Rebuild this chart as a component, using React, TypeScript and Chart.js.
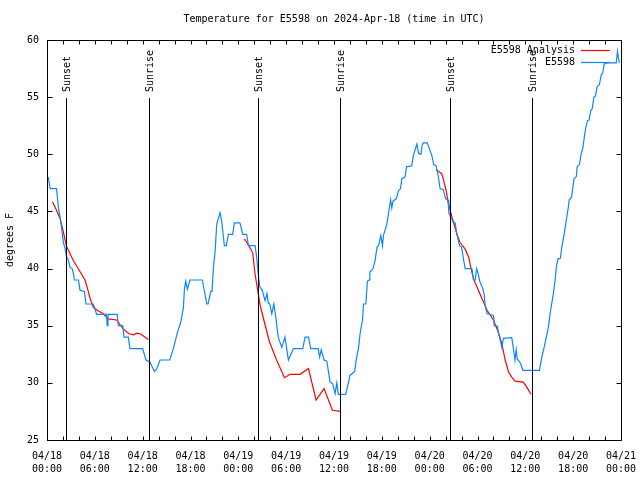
import React, { useEffect, useRef } from "react";
import { Chart, registerables } from "chart.js";

Chart.register(...registerables);

const TITLE = "Temperature for E5598 on 2024-Apr-18 (time in UTC)";
const Y_TITLE = "degrees F";
const FONT = "'DejaVu Sans Mono', monospace";

// hours since 2024-04-18 00:00 UTC
const obsHours = [
  0.16, 0.3, 0.4, 1.2, 1.42, 1.6, 1.84, 2.05, 2.25, 2.47, 2.6, 2.89, 3.15, 3.3, 3.43, 3.95, 4.14, 4.7, 4.89, 5.8,
  6.23, 7.45, 7.55, 7.65, 8.8, 8.95, 9.5, 9.66, 10.2, 10.41, 12.0, 12.42, 12.92, 13.47, 13.75, 14.18, 15.4, 15.85,
  16.1, 16.48, 16.7, 16.9, 17.11, 17.24, 17.4, 17.6, 17.94, 19.49, 20.04, 20.2, 20.54, 20.7, 20.87, 21.08, 21.29,
  21.7, 21.9, 22.25, 22.5, 22.75, 23.3, 23.5, 24.2, 24.55, 25.05, 25.26, 26.1, 26.3, 26.5, 26.7, 27.0, 27.35, 27.6,
  27.75, 27.95, 28.2, 28.45, 28.7, 29.0, 29.45, 29.85, 30.28, 30.9, 32.08, 32.37, 32.8, 33.08, 34.0, 34.2, 34.4,
  34.75, 35.1, 35.5, 35.85, 36.14, 36.35, 36.55, 37.47, 37.8, 38.0, 38.6, 38.8, 39.07, 39.27, 39.57, 39.7, 40.0,
  40.19, 40.4, 40.5, 40.9, 41.15, 41.4, 41.6, 41.87, 42.08, 42.2, 42.6, 42.8, 43.1, 43.25, 43.4, 43.8, 44.1, 44.35,
  44.5, 44.9, 45.1, 45.75, 45.96, 46.4, 46.6, 46.9, 47.05, 47.2, 47.7, 48.06, 48.27, 48.5, 48.8, 49.1, 49.3, 49.7,
  50.0, 50.3, 50.4, 50.7, 50.9, 51.2, 51.4, 51.74, 52.0, 52.2, 52.45, 53.3, 53.5, 53.7, 53.9, 54.1, 54.3, 54.67,
  54.84, 54.95, 55.2, 56.0, 56.1, 56.5, 56.6, 56.8, 57.06, 57.25, 58.3, 58.5, 58.7, 58.85, 59.0, 59.15, 59.4, 59.7,
  61.77, 62.06, 62.36, 62.6, 62.9, 63.1, 63.45, 63.74, 63.9, 64.1, 64.4, 64.58, 64.8, 65.0, 65.2, 65.4, 65.5, 65.8,
  65.96, 66.1, 66.4, 66.5, 66.8, 67.0, 67.2, 67.4, 67.6, 67.8, 68.0, 68.2, 68.4, 68.6, 68.8, 69.0, 69.3, 69.5,
  69.7, 69.9, 70.3, 71.4, 71.56, 71.7, 71.8,
];
const obsTemps = [
  48.0, 47.4, 47.0, 47.0, 45.4, 44.7, 43.5, 42.3, 41.8, 41.0, 40.9, 40.1, 40.0, 39.6, 39.0, 39.0, 38.1, 38.0, 36.9, 36.9,
  36.0, 36.0, 35.0, 36.0, 36.0, 35.0, 35.0, 34.0, 34.0, 33.0, 33.0, 32.0, 31.8, 31.0, 31.2, 32.0, 32.0, 33.0,
  33.7, 34.7, 35.1, 35.75, 36.6, 38.2, 38.9, 38.2, 39.0, 39.0, 36.9, 36.9, 38.0, 38.0, 40.1, 41.4, 43.9,
  44.9, 44.2, 42.0, 42.0, 43.0, 43.0, 44.0, 44.0, 43.0, 43.0, 42.0, 42.0, 41.0, 39.5, 38.4, 38.1, 37.2, 37.8,
  37.0, 36.9, 36.05, 36.9, 35.75, 34.0, 33.1, 34.0, 32.0, 33.0, 33.0, 34.0, 34.0, 33.0, 33.0, 32.25, 32.9,
  32.0, 31.9, 30.1, 29.9, 29.05, 30.0, 29.0, 29.0, 30.0, 30.65, 31.0, 32.1, 33.0, 34.3, 35.5, 36.9, 36.9,
  38.9, 39.0, 39.7, 40.0, 40.7, 41.9, 42.0, 42.9, 42.0, 42.9, 43.8, 44.65, 46.0, 45.3, 45.9, 46.1, 46.8, 47.0,
  47.85, 48.0, 48.9, 49.0, 49.9, 50.9, 50.1, 50.0, 50.8, 51.0, 51.0, 50.3, 49.9, 49.1, 49.0, 48.0, 47.0, 46.9,
  46.1, 46.0, 44.9, 44.5, 44.1, 44.0, 43.05, 42.0, 41.9, 41.0, 40.0, 40.0, 39.0, 39.0, 40.0, 39.5, 38.85, 38.25,
  37.7, 36.8, 36.05, 35.9, 35.0, 34.95, 34.45, 33.9, 33.1, 33.9, 33.95, 33.0, 32.0, 32.9, 32.0, 32.0, 31.7, 31.1,
  31.1, 32.25, 33.1, 33.9, 34.9, 36.05, 37.5, 39.0, 40.2, 40.85, 40.9, 41.9, 42.75, 43.6, 44.5, 45.4, 46.0, 46.25,
  47.1, 47.85, 48.05, 48.9, 49.1, 50.05, 50.5, 51.5, 52.4, 52.96, 53.0, 53.8, 54.0, 55.0, 55.1, 55.9, 56.1, 56.9,
  57.1, 57.9, 58.0, 58.0, 59.0, 58.35, 58.0,
];

// analysis series, null = gap between analysis runs
const anaHours = [
  0.67, 1.0, 1.63, 2.05, 2.47, 3.3, 4.0, 4.77, 5.1, 5.4, 5.81, 6.4, 7.07, 7.7, 8.74, 9.58, 10.3, 10.83, 11.3, 11.67,
  12.1, 12.7, 18.0,
  24.76, 25.05, 25.4, 25.8, 26.1, 26.5, 26.7, 27.2, 27.9, 28.8, 29.78, 30.5, 31.74, 32.8, 33.75, 34.75, 35.8, 36.76,
  42.0,
  48.8, 49.3, 49.5, 49.65, 50.06, 50.35, 50.8, 51.4, 51.8, 52.45, 52.9, 53.16, 53.5, 54.3, 55.2, 56.0, 56.6, 57.06,
  57.47, 57.9, 58.3, 58.7, 59.76, 60.2, 60.7,
];
const anaTemps = [
  45.85, 45.4, 44.4, 43.2, 41.9, 40.7, 39.9, 39.0, 38.2, 37.4, 36.6, 36.3, 36.05, 35.6, 35.5, 34.7, 34.3, 34.2, 34.35, 34.3,
  34.1, 33.8, null,
  42.6, 42.3, 41.9, 41.4, 39.5, 37.8, 36.9, 35.5, 33.6, 32.0, 30.45, 30.75, 30.75, 31.25, 28.5, 29.5, 27.6, 27.5,
  null,
  48.65, 48.4, 48.3, 48.0, 46.85, 45.7, 44.5, 43.05, 42.3, 41.7, 41.0, 40.1, 39.1, 37.8, 36.35, 35.5, 34.45, 33.4,
  32.0, 30.95, 30.5, 30.15, 30.07, 29.6, 29.0,
];

const sunHours = [2.42, 12.84, 26.5, 36.8, 50.6, 60.8];
const sunLabels = ["Sunset", "Sunrise", "Sunset", "Sunrise", "Sunset", "Sunrise"];

const seriesNames = ["E5598 Analysis", "E5598"];
const seriesColors = ["#ff0000", "#0a87ff"];

const X_MIN = 0;
const X_MAX = 72;
const Y_MIN = 25;
const Y_MAX = 60;

function tickLabel(v: number): string[] {
  const day = 18 + Math.floor(v / 24);
  const h = v % 24;
  const hh = (h < 10 ? "0" : "") + h;
  return ["04/" + day, hh + ":00"];
}

const decorPlugin = {
  id: "decor",
  afterDatasetsDraw(chart: any) {
    const { ctx, chartArea } = chart;
    const xs = chart.scales.x;
    const ys = chart.scales.y;
    const L = Math.round(chartArea.left) + 0.5;
    const R = Math.round(chartArea.right) + 0.5;
    const T = Math.round(chartArea.top) + 0.5;
    const B = Math.round(chartArea.bottom) + 0.5;
    ctx.save();
    ctx.strokeStyle = "#000";
    ctx.lineWidth = 1;
    // sunrise / sunset lines
    ctx.font = "10px " + FONT;
    ctx.fillStyle = "#000";
    sunHours.forEach((h, i) => {
      const x = Math.round(xs.getPixelForValue(h)) + 0.5;
      ctx.beginPath();
      ctx.moveTo(x, B);
      ctx.lineTo(x, 98);
      ctx.stroke();
      ctx.save();
      ctx.translate(x + 0.5, 92);
      ctx.rotate(-Math.PI / 2);
      ctx.textAlign = "left";
      ctx.textBaseline = "middle";
      ctx.fillText(sunLabels[i], 0, 0);
      ctx.restore();
    });
    // border
    ctx.beginPath();
    ctx.rect(L, T, R - L, B - T);
    ctx.stroke();
    // inward ticks
    ctx.beginPath();
    for (let h = X_MIN; h <= X_MAX; h += 2) {
      const x = Math.round(xs.getPixelForValue(h)) + 0.5;
      ctx.moveTo(x, B);
      ctx.lineTo(x, B - 4);
      ctx.moveTo(x, T);
      ctx.lineTo(x, T + 4);
    }
    for (let v = Y_MIN; v <= Y_MAX; v += 5) {
      const y = Math.round(ys.getPixelForValue(v)) + 0.5;
      ctx.moveTo(L, y);
      ctx.lineTo(L + 5, y);
      ctx.moveTo(R, y);
      ctx.lineTo(R - 5, y);
    }
    ctx.stroke();
    // title
    ctx.textAlign = "center";
    ctx.textBaseline = "middle";
    ctx.fillText(TITLE, (chartArea.left + chartArea.right) / 2, 19);
    // legend
    const rows = [50, 62];
    seriesNames.forEach((name, i) => {
      const y = rows[i];
      ctx.fillStyle = "#000";
      ctx.textAlign = "right";
      ctx.fillText(name, 575, y);
      ctx.strokeStyle = seriesColors[i];
      ctx.lineWidth = 1.2;
      ctx.beginPath();
      ctx.moveTo(581, y + 0.5);
      ctx.lineTo(610, y + 0.5);
      ctx.stroke();
    });
    ctx.restore();
  },
};

export default function App() {
  const ref = useRef<HTMLCanvasElement | null>(null);
  useEffect(() => {
    if (!ref.current) return;
    const obsData = obsHours.map((h, i) => ({ x: h, y: obsTemps[i] }));
    const anaData = anaHours.map((h, i) => ({ x: h, y: anaTemps[i] }));
    const chart = new Chart(ref.current, {
      type: "line",
      data: {
        datasets: [
          {
            label: seriesNames[0],
            data: anaData as any,
            borderColor: seriesColors[0],
            borderWidth: 1.2,
            pointRadius: 0,
            tension: 0,
            spanGaps: false,
            order: 1,
          },
          {
            label: seriesNames[1],
            data: obsData as any,
            borderColor: seriesColors[1],
            borderWidth: 1.2,
            pointRadius: 0,
            tension: 0,
            order: 0,
          },
        ],
      },
      plugins: [decorPlugin],
      options: {
        animation: false,
        responsive: false,
        devicePixelRatio: 1,
        layout: { padding: { top: 40, right: 19, left: 0, bottom: 0 } },
        plugins: { legend: { display: false }, title: { display: false }, tooltip: { enabled: false } },
        scales: {
          x: {
            type: "linear",
            min: X_MIN,
            max: X_MAX,
            grid: { display: false, drawTicks: false },
            border: { display: false },
            afterFit: (s: any) => {
              s.height = 40;
              s.paddingRight = 0;
              s.paddingLeft = 0;
            },
            ticks: {
              stepSize: 6,
              autoSkip: false,
              maxRotation: 0,
              padding: 10,
              color: "#000",
              font: { family: FONT, size: 10, lineHeight: 1.3 },
              callback: (v: any) => tickLabel(Number(v)),
            },
          },
          y: {
            min: Y_MIN,
            max: Y_MAX,
            grid: { display: false, drawTicks: false },
            border: { display: false },
            afterFit: (s: any) => {
              s.width = 47;
            },
            title: {
              display: true,
              text: Y_TITLE,
              color: "#000",
              font: { family: FONT, size: 10 },
              padding: 4,
            },
            ticks: {
              stepSize: 5,
              padding: 8,
              color: "#000",
              font: { family: FONT, size: 10 },
            },
          },
        },
      },
    });
    return () => chart.destroy();
  }, []);
  return (
    <div style={{ position: "fixed", left: 0, top: 0, width: 640, height: 480, background: "#fff" }}>
      <canvas ref={ref} width={640} height={480} />
    </div>
  );
}
